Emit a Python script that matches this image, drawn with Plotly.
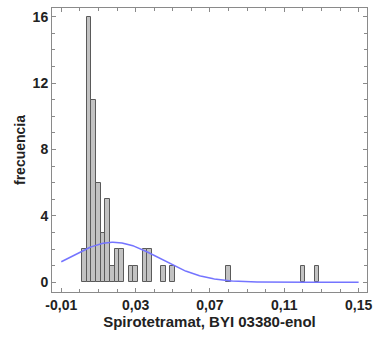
import numpy as np
import plotly.graph_objects as go

# Histogram of Spirotetramat (BYI 03380-enol) concentrations
bin_width = 0.0025
bin_centers = [0.0025, 0.005, 0.0075, 0.01, 0.0125, 0.015, 0.0175, 0.02, 0.0225,
               0.0275, 0.03, 0.035, 0.0375, 0.045, 0.05, 0.08, 0.12, 0.1275]
counts = [2, 16, 11, 6, 3, 5, 1, 2, 2,
          1, 1, 2, 2, 1, 1, 1, 1, 1]

x_ticks = [-0.01, 0.03, 0.07, 0.11, 0.15]
y_ticks = [0, 4, 8, 12, 16]
x_tick_labels = [f"{v:.2f}".replace(".", ",") for v in x_ticks]

# Fitted normal curve scaled to the histogram
c = np.array(bin_centers)
n = np.array(counts)
total = n.sum()
mean = (c * n).sum() / total
sd = np.sqrt((n * (c - mean) ** 2).sum() / (total - 1))
xs = np.linspace(-0.01, 0.15, 300)
ys = total * bin_width * np.exp(-0.5 * ((xs - mean) / sd) ** 2) / (sd * np.sqrt(2 * np.pi))

fig = go.Figure()
fig.add_trace(go.Bar(
    x=bin_centers, y=counts, width=bin_width,
    marker=dict(color="#c2c2c2", line=dict(color="#5a5a5a", width=1)),
    showlegend=False, hoverinfo="skip",
))
fig.add_trace(go.Scatter(
    x=xs, y=ys, mode="lines",
    line=dict(color="#7474ff", width=1.5),
    showlegend=False, hoverinfo="skip",
))

axis_common = dict(
    showgrid=False, zeroline=False, showline=True, linecolor="#8a8a8a", linewidth=1,
    mirror="ticks", ticks="inside", ticklen=4, tickcolor="#8a8a8a",
    tickfont=dict(family="Liberation Sans, Arial", size=14, color="#222222", weight="bold"),
)

fig.update_layout(
    width=379, height=338,
    margin=dict(l=52, r=10, t=7, b=46),
    paper_bgcolor="white", plot_bgcolor="white",
    bargap=0,
    xaxis=dict(
        range=[-0.015, 0.1545], tickvals=x_ticks, ticktext=x_tick_labels,
        minor=dict(dtick=0.01, tick0=0, ticks="inside", ticklen=3, tickcolor="#8a8a8a"),
        title=dict(text="Spirotetramat, BYI 03380-enol", standoff=4,
                   font=dict(family="Liberation Sans, Arial", size=15, color="#222222", weight="bold")),
        **axis_common,
    ),
    yaxis=dict(
        range=[-0.58, 16.52], tickvals=y_ticks,
        minor=dict(dtick=1, tick0=0, ticks="inside", ticklen=3, tickcolor="#8a8a8a"),
        title=dict(text="frecuencia", standoff=3,
                   font=dict(family="Liberation Sans, Arial", size=14, color="#222222", weight="bold")),
        **axis_common,
    ),
)

fig.write_html("out.html")
